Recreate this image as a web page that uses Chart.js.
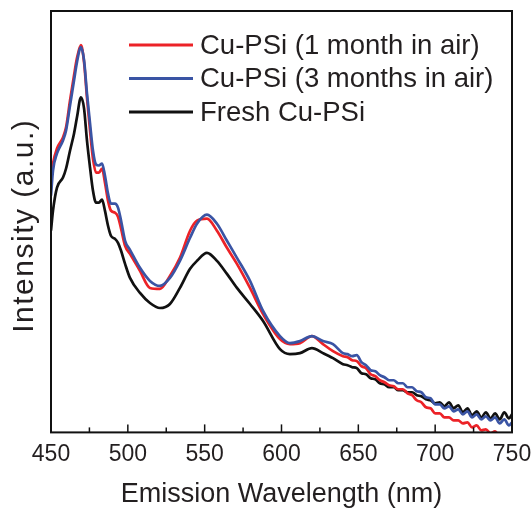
<!DOCTYPE html>
<html>
<head>
<meta charset="utf-8">
<script src="https://cdn.jsdelivr.net/npm/chart.js@4/dist/chart.umd.min.js"></script>
<style>
html, body { margin: 0; padding: 0; background: #fff; }
</style>
</head>
<body>
<canvas id="plChart" width="532" height="508"></canvas>
<script>
// emission wavelength (nm), shared by all three spectra
const wavelengths = [450, 451.3, 453.9, 457.8, 459.8, 462.4, 465, 466.9, 469.5, 471.5, 473.4, 475.4, 477.3, 479.3, 481.2, 483.2, 485.1, 487.1, 489, 491.6, 493.6, 495.6, 498.2, 501.4, 507.9, 514.4, 520.9, 527.4, 533.9, 540.5, 545, 551.5, 558, 564.5, 571, 579.5, 588, 599, 605.5, 612, 619.8, 627, 633.5,
    640, 643, 646, 649, 652, 655, 658, 661, 664, 667, 670, 673, 676, 679, 682, 685, 688, 691, 694, 697, 700, 703, 706, 709, 712, 715, 718, 721, 724, 727, 730, 733, 736, 739, 742, 745, 748, 750];

// intensity (a.u.)
const oneMonth = [253, 268, 283, 294, 304, 331, 356, 373, 386, 369, 334, 301, 273, 259, 259, 263, 249, 231, 221, 219, 215, 203, 186, 178, 161, 144, 143, 156, 174, 201, 211, 213, 201, 184, 168, 144, 118, 93, 88, 89, 96, 88, 81,
    76, 75, 72, 71, 66, 64, 58, 56, 52, 50, 47, 46, 43, 43, 39, 37, 32, 30, 25, 24, 19, 19, 15, 15, 12, 12, 9, 10, 5, 7, 2, 3, -1, 1, -4, -2, -6, -4];
const threeMonths = [236, 261, 278, 291, 301, 326, 351, 369, 384, 371, 338, 308, 281, 267, 266, 268, 256, 238, 228, 228, 224, 211, 191, 182, 164, 151, 146, 154, 171, 194, 208, 217, 208, 191, 174, 151, 121, 96, 89, 91, 96, 91, 88,
    79, 78, 76, 77, 70, 67, 62, 61, 57, 55, 52, 52, 49, 49, 45, 45, 41, 40, 35, 34, 28, 28, 24, 26, 21, 23, 18, 21, 15, 18, 13, 16, 12, 15, 9, 13, 7, 10];
const fresh = [201, 221, 244, 254, 263, 281, 298, 314, 334, 323, 291, 264, 241, 229, 229, 232, 221, 206, 196, 193, 189, 181, 168, 154, 139, 129, 124, 128, 144, 163, 171, 179, 171, 158, 144, 128, 111, 83, 78, 79, 84, 79, 74,
    68, 67, 65, 64, 59, 58, 54, 53, 49, 48, 45, 45, 42, 42, 40, 40, 37, 36, 33, 32, 29, 30, 26, 30, 24, 27, 20, 24, 17, 21, 15, 20, 14, 19, 13, 20, 14, 18];

const seriesLabels = ['Cu-PSi (1 month in air)', 'Cu-PSi (3 months in air)', 'Fresh Cu-PSi'];
const seriesColors = ['#ec2227', '#3a54a4', '#111111'];
const yTitle = 'Intensity (a.u.)';

const textColor = '#231f20';
const fontFamily = '"Liberation Sans", Arial, sans-serif';

function toPoints(values) {
    return wavelengths.map((w, i) => ({ x: w, y: values[i] }));
}

// box round the plot, ticks pointing inward, y title
const frameTicks = {
    id: 'frameTicks',
    afterDraw(chart) {
        const ctx = chart.ctx;
        const a = chart.chartArea;
        const x = chart.scales.x;
        ctx.save();
        ctx.strokeStyle = '#111';
        ctx.lineWidth = 2;
        ctx.strokeRect(a.left, a.top, a.right - a.left, a.bottom - a.top);
        ctx.lineWidth = 1.5;
        for (let v = 475; v < 750; v += 25) {
            const px = x.getPixelForValue(v);
            const len = v % 50 === 0 ? 8 : 5;
            ctx.beginPath();
            ctx.moveTo(px, a.bottom);
            ctx.lineTo(px, a.bottom - len);
            ctx.stroke();
        }
        ctx.restore();

        ctx.save();
        ctx.translate(33, (a.top + a.bottom) / 2 + 5);
        ctx.rotate(-Math.PI / 2);
        ctx.font = '30px ' + fontFamily;
        ctx.letterSpacing = '1.5px';
        ctx.fillStyle = textColor;
        ctx.textAlign = 'center';
        ctx.textBaseline = 'alphabetic';
        ctx.fillText(yTitle, 1, 0);
        ctx.restore();
    }
};

// legend inside the plot, upper right
const insideLegend = {
    id: 'insideLegend',
    afterDraw(chart) {
        const ctx = chart.ctx;
        const a = chart.chartArea;
        ctx.save();
        ctx.font = '27.5px ' + fontFamily;
        ctx.textBaseline = 'middle';
        chart.data.datasets.forEach((ds, i) => {
            const y = a.top + 34 + i * 33.5;
            ctx.strokeStyle = ds.borderColor;
            ctx.lineWidth = 3;
            ctx.beginPath();
            ctx.moveTo(a.left + 78, y);
            ctx.lineTo(a.left + 142, y);
            ctx.stroke();
            ctx.fillStyle = textColor;
            ctx.fillText(ds.label, a.left + 149, y + 1);
        });
        ctx.restore();
    }
};

const datasets = [oneMonth, threeMonths, fresh].map((values, i) => ({
    label: seriesLabels[i],
    data: toPoints(values),
    borderColor: seriesColors[i],
    borderWidth: 2.7,
    pointRadius: 0,
    cubicInterpolationMode: 'monotone',
    order: [1, 0, 2][i],
}));

const plConfig = {
    type: 'line',
    data: { datasets: datasets },
    options: {
        responsive: false,
        animation: false,
        layout: { padding: { top: 11, right: 20, left: 51, bottom: 0 } },
        plugins: {
            legend: { display: false },
            tooltip: { enabled: false },
        },
        scales: {
            x: {
                type: 'linear',
                min: 450,
                max: 750,
                grid: { display: false, drawTicks: false },
                border: { display: false },
                ticks: {
                    stepSize: 50,
                    padding: 8,
                    color: textColor,
                    font: { family: fontFamily, size: 23 },
                    maxRotation: 0,
                },
                title: {
                    display: true,
                    text: 'Emission Wavelength (nm)',
                    color: textColor,
                    font: { family: fontFamily, size: 27, lineHeight: 1 },
                    padding: { top: 5, bottom: 0 },
                },
                afterFit(scale) {
                    scale.paddingRight = 0;
                    scale.paddingLeft = 0;
                },
            },
            y: {
                min: 0,
                max: 420,
                grid: { display: false, drawTicks: false },
                border: { display: false },
                ticks: { display: false },
                afterFit(scale) {
                    scale.width = 0;
                },
            },
        },
    },
    plugins: [frameTicks, insideLegend],
};

new Chart(document.getElementById('plChart').getContext('2d'), plConfig);
</script>
</body>
</html>
